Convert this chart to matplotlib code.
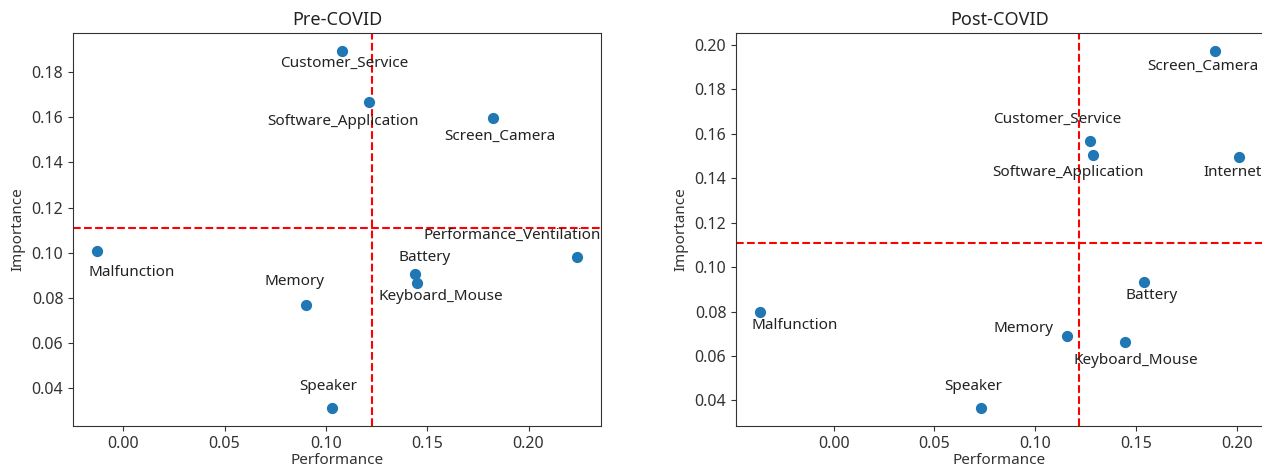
import numpy as np
import matplotlib
matplotlib.use("Agg")
import matplotlib.pyplot as plt

plt.rcParams['font.family'] = ['Noto Sans', 'DejaVu Sans']

# ---- data ----
pre_labels = ["Customer_Service", "Software_Application", "Screen_Camera", "Malfunction",
              "Performance_Ventilation", "Battery", "Keyboard_Mouse", "Memory", "Speaker"]
pre_perf = [0.1082, 0.1212, 0.1824, -0.0129, 0.2239, 0.1439, 0.1451, 0.0902, 0.1029]
pre_imp = [0.1893, 0.1666, 0.1597, 0.1010, 0.0982, 0.0906, 0.0866, 0.0770, 0.0313]

post_labels = ["Screen_Camera", "Customer_Service", "Software_Application", "Internet",
               "Battery", "Malfunction", "Memory", "Keyboard_Mouse", "Speaker"]
post_perf = [0.1893, 0.1270, 0.1285, 0.2010, 0.1538, -0.0365, 0.1159, 0.1445, 0.0730]
post_imp = [0.1974, 0.1567, 0.1505, 0.1496, 0.0935, 0.0797, 0.0690, 0.0663, 0.0365]

# label offsets in pixels (dx, dy), dy positive = up
pre_offsets = [(2, -13), (-26, -19), (7, -19), (35, -22), (-65, 21), (10, 17), (24, -13), (-11, 23), (-4, 22)]
post_offsets = [(-13, -16), (-33, 22), (-25, -17), (-6, -15), (8, -14), (35, -13), (-44, 7), (11, -19), (-8, 22)]

DPI = 100
fig = plt.figure(figsize=(12.62, 4.69), dpi=DPI)
ax1 = fig.add_axes([73/1262, 1-426/469, 528/1262, 393/469])
ax2 = fig.add_axes([736/1262, 1-426/469, 527/1262, 393/469])

def draw(ax, title, labels, perf, imp, offsets):
    ax.scatter(perf, imp, s=50, color='#1f77b4', zorder=3)
    for lab, x, y, (dx, dy) in zip(labels, perf, imp, offsets):
        ax.annotate(lab, (x, y), xytext=(dx * 72 / DPI, dy * 72 / DPI),
                    textcoords='offset points', ha='center', va='center',
                    fontsize=11, color='#222222')
    ax.axvline(np.mean(perf), color='red', linestyle='--', linewidth=1.5)
    ax.axhline(np.mean(imp), color='red', linestyle='--', linewidth=1.5)
    ax.set_title(title, fontsize=13, color='#222222')
    ax.set_xlabel('Performance', fontsize=11, labelpad=1, color='#333333')
    ax.set_ylabel('Importance', fontsize=11, color='#333333')
    ax.tick_params(labelsize=11.5, labelcolor='#333333', color='#333333')
    for sp in ax.spines.values():
        sp.set_color('#333333')

draw(ax1, 'Pre-COVID', pre_labels, pre_perf, pre_imp, pre_offsets)
draw(ax2, 'Post-COVID', post_labels, post_perf, post_imp, post_offsets)
ax1.set_xticks([0.0, 0.05, 0.10, 0.15, 0.20])
ax2.set_xticks([0.0, 0.05, 0.10, 0.15, 0.20])

fig.savefig('out.png', dpi=DPI)
